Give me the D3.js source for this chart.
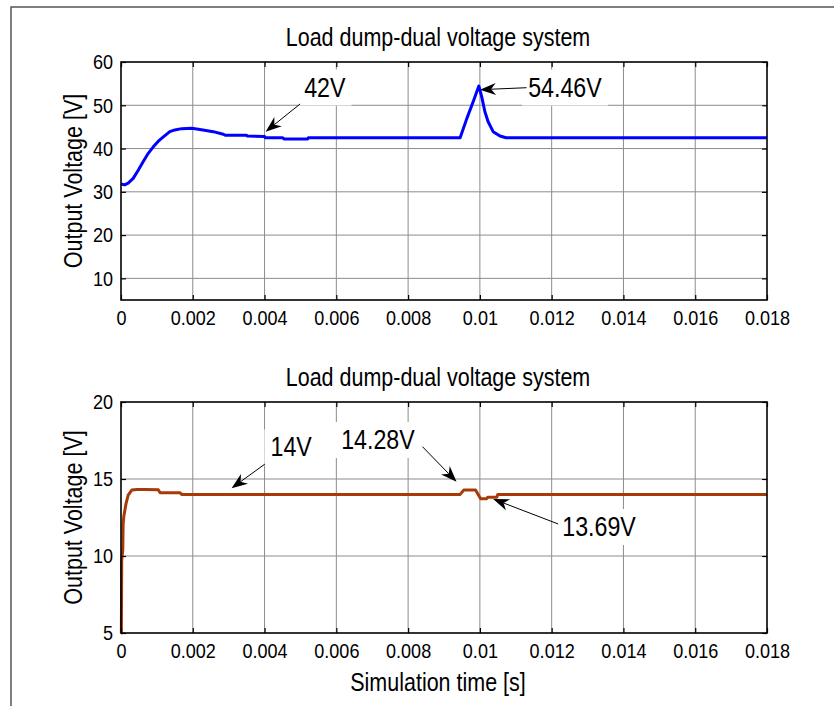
<!DOCTYPE html>
<html><head><meta charset="utf-8">
<script src="https://cdn.jsdelivr.net/npm/d3@7"></script>
<style>
body{margin:0;background:#fff;}
svg{display:block;font-family:"Liberation Sans",Arial,sans-serif;}
</style></head>
<body><svg id="c" width="834" height="706"></svg>
<script>
// ---------- data ----------
const xTicks = [0,0.002,0.004,0.006,0.008,0.01,0.012,0.014,0.016,0.018];
const xTickLabels = ["0","0.002","0.004","0.006","0.008","0.01","0.012","0.014","0.016","0.018"];
const topYTicks = [10,20,30,40,50,60];
const botYTicks = [5,10,15,20];
const titleText = "Load dump-dual voltage system";
const yLabelText = "Output Voltage [V]";
const xLabelText = "Simulation time [s]";

const topT = [0,0.0001,0.0002,0.00034,0.00048,0.00062,0.00076,0.0009,0.00104,0.00118,0.00136,0.0015,0.00169,0.00197,0.0022,0.00257,0.00285,0.0029,0.0035,0.00352,0.0040,0.00402,0.0045,0.00455,0.0052,0.00522,0.00945,0.00963,0.00982,0.00997,0.01005,0.01014,0.01023,0.01037,0.01056,0.01073,0.018];
const topV = [31.8,31.6,32.0,33.1,35.0,37.0,38.9,40.4,41.7,42.7,43.9,44.3,44.6,44.7,44.4,43.9,43.3,43.1,43.1,42.9,42.8,42.5,42.5,42.2,42.2,42.5,42.5,46.8,51.0,54.46,52.0,48.5,46.2,43.9,42.9,42.5,42.5];

const botT = [0,0.00001,0.00002,0.00005,0.00006,0.00008,0.00014,0.0002,0.0003,0.00044,0.00067,0.00104,0.00109,0.00164,0.00169,0.00945,0.00955,0.00988,0.01002,0.01019,0.01022,0.01047,0.0105,0.018];
const botV = [5,5,9.7,10.4,12.1,12.6,13.4,13.95,14.28,14.32,14.32,14.3,14.11,14.11,14.0,14.0,14.28,14.28,13.72,13.72,13.82,13.82,14.0,14.0];

// annotations: text position and arrow (start -> tip) in data units
const topNotes = [
  {text:"42V", t:0.00568, v:54.1, t0:0.00499, v0:50.3, t1:0.00403, v1:43.9},
  {text:"54.46V", t:0.01237, v:54.1, t0:0.0113, v0:54.06, t1:0.0100, v1:53.6}
];
const botNotes = [
  {text:"14V", t:0.00474, v:17.05, t0:0.00401, v0:15.97, t1:0.00308, v1:14.4},
  {text:"14.28V", t:0.00716, v:17.53, t0:0.0084, v0:17.1, t1:0.00935, v1:14.82},
  {text:"13.69V", t:0.01332, v:11.88, t0:0.01218, v0:12.08, t1:0.01037, v1:13.7}
];

// ---------- drawing ----------
const svg = d3.select("#c");
const SX = 0.86; // horizontal condensing of text
const L = 121, R = 767;

// outer frame
svg.append("path").attr("d","M11,706 L11,7 L834,7").attr("fill","none").attr("stroke","#555").attr("stroke-width",1.5);

function ctext(g, x, y, str, size, anchor){
  return g.append("text").attr("transform",`translate(${x},${y}) scale(${SX},1)`)
    .attr("text-anchor",anchor||"middle").attr("font-size",size).attr("fill","#000").text(str);
}

function panel(top, bottom, yDomain, yTicks, T, V, color, notes, showXLabel){
  const x = d3.scaleLinear().domain([0,0.018]).range([L,R]);
  const y = d3.scaleLinear().domain(yDomain).range([bottom,top]);
  const g = svg.append("g");
  // grid
  g.append("g").selectAll("line").data(xTicks.slice(1,-1)).join("line")
    .attr("x1",d=>x(d)).attr("x2",d=>x(d)).attr("y1",top).attr("y2",bottom)
    .attr("stroke","#8c8c8c").attr("stroke-width",1);
  g.append("g").selectAll("line").data(yTicks.filter(d=>d>yDomain[0]&&d<yDomain[1])).join("line")
    .attr("x1",L).attr("x2",R).attr("y1",d=>y(d)).attr("y2",d=>y(d))
    .attr("stroke","#8c8c8c").attr("stroke-width",1);

  const noteG = g.append("g");
  const boxG = noteG.append("g");
  // curve
  const line = d3.line().x((d,i)=>x(T[i])).y((d,i)=>y(V[i]));
  g.append("path").datum(V).attr("d",line).attr("fill","none")
    .attr("stroke",color).attr("stroke-width",3).attr("stroke-linejoin","round");

  // axes
  const ax = (gen, tr) => g.append("g").attr("transform",tr).call(gen);
  const xb = ax(d3.axisBottom(x).tickValues(xTicks).tickSize(-5).tickPadding(10).tickFormat((d,i)=>xTickLabels[i]), `translate(0,${bottom})`);
  const xt = ax(d3.axisTop(x).tickValues(xTicks).tickSize(-5).tickFormat(""), `translate(0,${top})`);
  const yl = ax(d3.axisLeft(y).tickValues(yTicks).tickSize(-5).tickPadding(9), `translate(${L},0)`);
  const yr = ax(d3.axisRight(y).tickValues(yTicks).tickSize(-5).tickFormat(""), `translate(${R},0)`);
  [xb,xt,yl,yr].forEach(a=>{
    a.select(".domain").remove();
    a.selectAll(".tick line").attr("stroke","#000").attr("stroke-width",1.2);
  });
  xb.selectAll(".tick text").attr("font-size",21).attr("font-family","Liberation Sans, Arial, sans-serif").attr("fill","#000")
    .attr("transform",`scale(${SX},1)`);
  yl.selectAll(".tick text").attr("font-size",21).attr("font-family","Liberation Sans, Arial, sans-serif").attr("fill","#000")
    .attr("x",-8/SX).attr("transform",`scale(${SX},1)`);
  g.append("rect").attr("x",L).attr("y",top).attr("width",R-L).attr("height",bottom-top)
    .attr("fill","none").attr("stroke","#000").attr("stroke-width",1.6);

  // title
  ctext(g,(L+R)/2-6,top-16,titleText,25);
  // y label
  g.append("text").attr("transform",`translate(82,${(top+bottom)/2}) rotate(-90) scale(${SX},1)`)
    .attr("text-anchor","middle").attr("font-size",25).text(yLabelText);
  if(showXLabel) ctext(g,(L+R)/2-6,bottom+58,xLabelText,25);

  // annotations
  notes.forEach(n=>{
    const t = ctext(noteG, x(n.t), y(n.v)+9, n.text, 27);
    const bb = t.node().getBBox();
    const w = bb.width*SX;
    boxG.append("rect").attr("x",x(n.t)-w/2-6).attr("y",y(n.v)-18).attr("width",w+12).attr("height",36).attr("fill","#fff");
    const x0=x(n.t0), y0=y(n.v0), x1=x(n.t1), y1=y(n.v1);
    const a = Math.atan2(y1-y0,x1-x0), len=16, hw=6;
    const bx = x1-len*Math.cos(a), by = y1-len*Math.sin(a);
    const nx = x1-len*0.7*Math.cos(a), ny = y1-len*0.7*Math.sin(a);
    noteG.append("line").attr("x1",x0).attr("y1",y0).attr("x2",nx).attr("y2",ny).attr("stroke","#000").attr("stroke-width",1);
    const p1=[bx+hw*Math.sin(a), by-hw*Math.cos(a)], p2=[bx-hw*Math.sin(a), by+hw*Math.cos(a)];
    noteG.append("path").attr("d",`M${x1},${y1}L${p1}L${nx},${ny}L${p2}Z`).attr("fill","#000");
  });
}

panel(62,300,[5,60],topYTicks,topT,topV,"#0000ff",topNotes,false);
panel(402,633,[5,20],botYTicks,botT,botV,"#a83a08",botNotes,true);
</script></body></html>
